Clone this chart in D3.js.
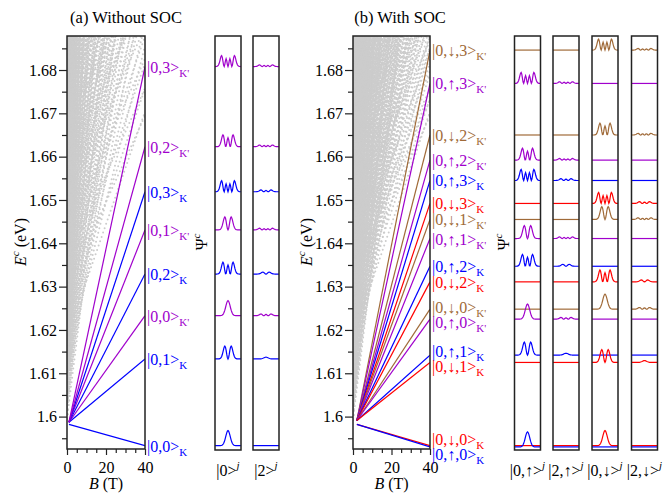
<!DOCTYPE html>
<html><head><meta charset="utf-8">
<script src="https://cdn.jsdelivr.net/npm/d3@7"></script>
<style>
body{margin:0;background:#fff}
svg{display:block}
text{font-family:"Liberation Serif","Times New Roman",serif}
</style>
</head><body>
<svg id="c" width="663" height="498"></svg>
<script>
// ---------------- data ----------------
const yMajor = [1.6,1.61,1.62,1.63,1.64,1.65,1.66,1.67,1.68];
const yMinor = [1.595,1.605,1.615,1.625,1.635,1.645,1.655,1.665,1.675,1.685];
const xMajor = [0,20,40];
const xMinor = [5,10,15,25,30,35];
const eDomain = [1.59252,1.68785];
const bDomain = [0,40];

// background (bulk) levels: band edges at B=0 (eV), lowest fan slope per edge and fan slopes (meV/T)
const bulkEdgesA    = [1.5995,1.6022,1.6055,1.6093,1.6136,1.6184,1.6237,1.6295,1.6358,1.6426,1.6499,1.6577,1.6660,1.6748,1.6841];
const bulkMinSlopeA = [3.6,3.2,2.8,2.3,1.8,1.3,1.3,1.0,1.0,1.0,1.0,1.0,1.0,1.0,1.0];
const bulkEdgesB    = [1.5993,1.6007,1.6020,1.6037,1.6053,1.6074,1.6093,1.6117,1.6136,1.6163,1.6184,1.6214,1.6237,1.6270,1.6295,1.6331,1.6358,1.6397,1.6426,1.6468,1.6499,1.6544,1.6577,1.6625,1.6660,1.6711,1.6748,1.6802,1.6841,1.6898];
const bulkMinSlopeB = [3.6,3.6,3.2,3.2,2.8,2.8,2.3,2.3,1.8,1.8,1.3,1.3,1.3,1.3,1.0,1.0,1.0,1.0,1.0,1.0,1.0,1.0,1.0,1.0,1.0,1.0,1.0,1.0,1.0,1.0];
const bulkSlopes = [1.0,1.3,1.8,2.3,2.8,3.6,4.6,6.0,7.8,10.2,13.5,18,24,32,43,58,78,100];

// (a) without SOC
const aValley = ["K","K","K'","K","K'","K","K'","K'"];
const aN      = [0,1,0,2,1,3,2,3];
const aStartB = 1;
const aStartE = [1.5982,1.5987,1.5987,1.5987,1.5987,1.5987,1.5987,1.5987];
const aEndE   = [1.5933,1.6133,1.6233,1.6329,1.6431,1.6519,1.6623,1.6808];
const aMinorN = [-1,0,2,1,3,2,3,3];
const aMinorW = [0,0.12,0.14,0.15,0.15,0.15,0.15,0.15];

// (b) with SOC
const bValley = ["K'","K'","K'","K'","K","K","K'","K'","K","K","K'","K'","K","K","K","K"];
const bSpin   = ["↓","↑","↓","↑","↑","↓","↓","↑","↑","↓","↓","↑","↑","↓","↓","↑"];
const bN      = [3,3,2,2,3,3,1,1,2,2,0,0,1,1,0,0];
const bStartB = 2;
const bStartE = [1.5991,1.5991,1.5991,1.5991,1.5991,1.5991,1.5991,1.5991,1.5991,1.5991,1.5991,1.5991,1.5991,1.5991,1.5982,1.5982];
const bEndE   = [1.6846,1.6769,1.6650,1.6592,1.6545,1.6492,1.6455,1.6411,1.6347,1.6311,1.6248,1.6225,1.6142,1.6125,1.5933,1.5930];
const bMinorN = [3,3,3,3,2,2,3,3,1,1,2,2,0,0,-1,-1];
const bMinorW = [0.15,0.15,0.15,0.15,0.15,0.15,0.15,0.15,0.15,0.15,0.14,0.14,0.12,0.12,0,0];

// oscillator densities |psi_n(x)|^2 (normalised to peak), x = 0..3.6 step 0.2 (symmetric)
const profX = [0,0.2,0.4,0.6,0.8,1.0,1.2,1.4,1.6,1.8,2.0,2.2,2.4,2.6,2.8,3.0,3.2,3.4,3.6];
const prof0 = [1,.961,.852,.698,.527,.368,.237,.141,.077,.039,.018,.008,.003,.001,0,0,0,0,0];
const prof1 = [0,.104,.371,.683,.917,1,.927,.750,.538,.345,.199,.104,.049,.021,.008,.003,.001,0,0];
const prof2 = [.762,.619,.300,.042,.031,.280,.638,.915,.999,.897,.683,.453,.266,.138,.065,.027,.010,.004,.001];
const prof3 = [0,.177,.529,.706,.539,.199,.003,.126,.481,.831,.989,.922,.712,.469,.269,.135,.060,.024,.008];
const profiles = [prof0,prof1,prof2,prof3];
const psiPeak = [1.0,0.86,0.79,0.74];

// ---------------- drawing ----------------
const COL = {K:{"↑":"#0000ff","↓":"#ff0000"}, "K'":{"↑":"#a000cc","↓":"#a06a38"}};
const svg = d3.select("#c");
const yE = d3.scaleLinear().domain(eDomain).range([449,36]);
const FS = 16;

function fullProfile(n){
  const pts=[];
  for(let i=profX.length-1;i>0;i--) pts.push([-profX[i],profiles[n][i]]);
  for(let i=0;i<profX.length;i++) pts.push([profX[i],profiles[n][i]]);
  return pts;
}

let clipId=0;
function energyPanel(cfg){
  const g = svg.append("g");
  const xB = d3.scaleLinear().domain(bDomain).range([cfg.x0,cfg.x1]);
  const id="clip"+(clipId++);
  svg.append("clipPath").attr("id",id).append("rect")
     .attr("x",cfg.x0).attr("y",36).attr("width",cfg.x1-cfg.x0).attr("height",413);
  const gb = g.append("g").attr("clip-path",`url(#${id})`);
  // bulk background dots
  const bulk=[];
  cfg.edges.forEach((e,i)=>bulkSlopes.forEach(s=>{ if(s>=cfg.minSlope[i]) bulk.push({e,s}); }));
  gb.selectAll("line.bulk").data(bulk).join("line")
    .attr("x1",xB(0)).attr("y1",d=>yE(d.e))
    .attr("x2",xB(40)).attr("y2",d=>yE(d.e+d.s*1e-3*40))
    .attr("stroke","#cccccc").attr("stroke-width",2)
    .attr("stroke-linecap","round").attr("stroke-dasharray","0 4.6");
  // state lines
  gb.selectAll("line.st").data(cfg.states).join("line")
    .attr("x1",xB(cfg.startB)).attr("y1",d=>yE(d.e0))
    .attr("x2",xB(40)).attr("y2",d=>yE(d.e1))
    .attr("stroke",d=>d.color).attr("stroke-width",1.2);
  // axes
  const ax = g.append("g").attr("transform",`translate(${cfg.x0},0)`)
    .call(d3.axisLeft(yE).tickValues(yMajor).tickSize(8).tickPadding(2).tickFormat(d=>String(+d.toFixed(2))));
  ax.select(".domain").remove();
  ax.attr("font-size",FS).attr("font-family",null);
  const axm = g.append("g").attr("transform",`translate(${cfg.x0},0)`)
    .call(d3.axisLeft(yE).tickValues(yMinor).tickSize(5).tickFormat(""));
  axm.select(".domain").remove();
  const bx = g.append("g").attr("transform",`translate(0,449)`)
    .call(d3.axisBottom(xB).tickValues(xMajor).tickSize(6).tickPadding(7));
  bx.select(".domain").remove();
  bx.attr("font-size",FS).attr("font-family",null);
  const bxm = g.append("g").attr("transform",`translate(0,449)`)
    .call(d3.axisBottom(xB).tickValues(xMinor).tickSize(4).tickFormat(""));
  bxm.select(".domain").remove();
  g.selectAll(".tick line").attr("stroke","#222").attr("stroke-width",1.2);
  // frame
  g.append("rect").attr("x",cfg.x0).attr("y",36).attr("width",cfg.x1-cfg.x0).attr("height",413)
    .attr("fill","none").attr("stroke","#222").attr("stroke-width",1.5);
  // titles
  g.append("text").attr("x",cfg.titleX).attr("y",23).attr("text-anchor","middle")
    .style("font-size","16.5px").text(cfg.title);
  const xl = g.append("text").attr("x",(cfg.x0+cfg.x1)/2).attr("y",489).attr("text-anchor","middle").style("font-size",FS+"px");
  xl.append("tspan").style("font-style","italic").text("B");
  xl.append("tspan").text(" (T)");
  const yl = g.append("text").attr("transform",`translate(${cfg.x0-41},242) rotate(-90)`).attr("text-anchor","middle").style("font-size",FS+"px");
  yl.append("tspan").style("font-style","italic").text("E");
  yl.append("tspan").style("font-style","italic").style("font-size","11px").attr("dy",-7).text("c");
  yl.append("tspan").attr("dy",7).text(" (eV)");
  // state labels with simple de-overlap
  const GAP=15;
  const labs = cfg.states.map(d=>({d, y:yE(d.e1)+6}));
  labs.sort((a,b)=>a.y-b.y);
  for(let it=0;it<80;it++){
    for(let i=1;i<labs.length;i++){
      const gap=labs[i].y-labs[i-1].y;
      if(gap<GAP){const s=(GAP-gap)/2; labs[i].y+=s; labs[i-1].y-=s;}
    }
  }
  labs.forEach(l=>{
    const t=g.append("text").attr("x",cfg.x1+2).attr("y",l.y).attr("fill",l.d.color).style("font-size",FS+"px");
    t.append("tspan").text(l.d.label);
    t.append("tspan").attr("dy",4).style("font-size","11px").text(l.d.valley);
  });
  return xB;
}

function wavePanels(cfg){
  const g = svg.append("g");
  const line = d3.line();
  cfg.panels.forEach((p,pi)=>{
    const xw = d3.scaleLinear().domain([-4.1,4.1]).range([p[0],p[1]]);
    cfg.states.forEach(d=>{
      const y0 = yE(d.e1);
      const w = d.weights[pi];
      let pts;
      if(w.n<0 || w.w===0){
        pts=[[xw(-4.1),y0],[xw(4.1),y0]];
      } else {
        const h = 15*psiPeak[w.n]*w.w;
        pts=[[xw(-4.1),y0]].concat(fullProfile(w.n).map(q=>[xw(q[0]),y0-h*q[1]])).concat([[xw(4.1),y0]]);
      }
      g.append("path").attr("d",line(pts)).attr("fill","none").attr("stroke",d.color).attr("stroke-width",1.2);
    });
    g.append("rect").attr("x",p[0]).attr("y",36).attr("width",p[1]-p[0]).attr("height",414)
      .attr("fill","none").attr("stroke","#222").attr("stroke-width",1.5);
    const t=g.append("text").attr("x",(p[0]+p[1])/2).attr("y",476).attr("text-anchor","middle").style("font-size",FS+"px");
    t.append("tspan").text(cfg.labels[pi]);
    t.append("tspan").attr("dy",-7).style("font-style","italic").style("font-size","11px").text("j");
  });
  const yl=g.append("text").attr("transform",`translate(${cfg.psiX},242) rotate(-90)`).attr("text-anchor","middle").style("font-size",FS+"px");
  yl.append("tspan").text("Ψ");
  yl.append("tspan").attr("dy",-7).style("font-style","italic").style("font-size","11px").text("c");
}

// build state objects
const statesA = aN.map((n,i)=>({
  label:`|0,${n}>`, valley:aValley[i], color:COL[aValley[i]]["↑"],
  e0:aStartE[i], e1:aEndE[i],
  weights:[{n:n,w:1},{n:aMinorN[i],w:aMinorW[i]}]
}));
const statesB = bN.map((n,i)=>{
  const up = bSpin[i]==="↑";
  const main={n:n,w:1}, minor={n:bMinorN[i],w:bMinorW[i]}, none={n:-1,w:0};
  return {label:`|0,${bSpin[i]},${n}>`, valley:bValley[i], color:COL[bValley[i]][bSpin[i]],
    e0:bStartE[i], e1:bEndE[i],
    weights: up ? [main,minor,none,none] : [none,none,main,minor]};
});

energyPanel({x0:67,x1:145,edges:bulkEdgesA,minSlope:bulkMinSlopeA,states:statesA,startB:aStartB,title:"(a) Without SOC",titleX:126});
energyPanel({x0:353,x1:430,edges:bulkEdgesB,minSlope:bulkMinSlopeB,states:statesB,startB:bStartB,title:"(b) With SOC",titleX:400});
wavePanels({panels:[[215,241],[253,279]],states:statesA,labels:["|0>","|2>"],psiX:207});
wavePanels({panels:[[514.5,540.5],[553,579],[592,618],[631.5,657.5]],states:statesB,labels:["|0,↑>","|2,↑>","|0,↓>","|2,↓>"],psiX:509});
</script>
</body></html>
